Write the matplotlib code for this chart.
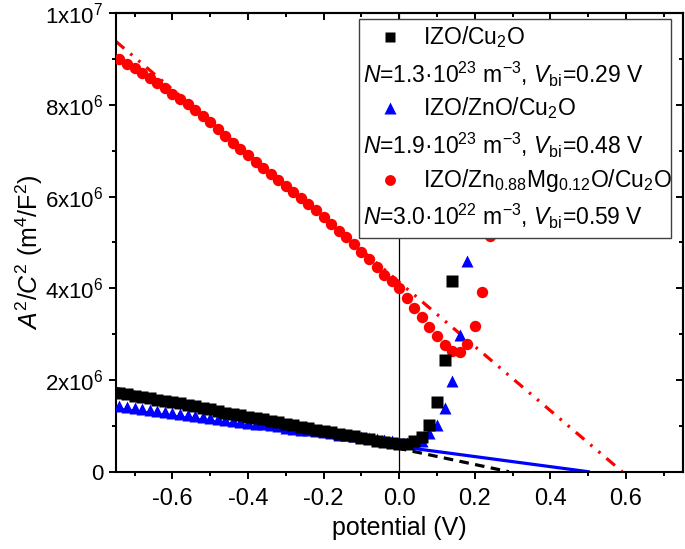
import matplotlib
matplotlib.use("Agg")
import matplotlib.pyplot as plt
from matplotlib.ticker import MultipleLocator, FixedLocator
from matplotlib.patches import Rectangle

plt.rcParams['font.family'] = ['Liberation Sans', 'DejaVu Sans']
plt.rcParams['mathtext.fontset'] = 'custom'
plt.rcParams['mathtext.rm'] = 'Liberation Sans'
plt.rcParams['mathtext.it'] = 'Liberation Sans:italic'
plt.rcParams['mathtext.bf'] = 'Liberation Sans:bold'

# ---------------- data (values in V and m^4/F^2 * 1e6) ----------------
cu2o_x = [-0.74, -0.72, -0.70, -0.68, -0.66, -0.64, -0.62, -0.60, -0.58, -0.56,
          -0.54, -0.52, -0.50, -0.48, -0.46, -0.44, -0.42, -0.40, -0.38, -0.36,
          -0.34, -0.32, -0.30, -0.28, -0.26, -0.24, -0.22, -0.20, -0.18, -0.16,
          -0.14, -0.12, -0.10, -0.08, -0.06, -0.04, -0.02, 0.00, 0.02, 0.04,
          0.06, 0.08, 0.10, 0.12, 0.14]
cu2o_y = [1.72, 1.69, 1.66, 1.63, 1.60, 1.57, 1.55, 1.52, 1.49, 1.46,
          1.43, 1.39, 1.36, 1.33, 1.29, 1.26, 1.23, 1.20, 1.17, 1.14,
          1.11, 1.08, 1.05, 1.02, 0.98, 0.95, 0.92, 0.89, 0.86, 0.83,
          0.80, 0.77, 0.74, 0.71, 0.68, 0.65, 0.62, 0.60, 0.60, 0.66,
          0.76, 1.02, 1.51, 2.44, 4.16]

zno_x = [-0.74, -0.72, -0.70, -0.68, -0.66, -0.64, -0.62, -0.60, -0.58, -0.56,
         -0.54, -0.52, -0.50, -0.48, -0.46, -0.44, -0.42, -0.40, -0.38, -0.36,
         -0.34, -0.32, -0.30, -0.28, -0.26, -0.24, -0.22, -0.20, -0.18, -0.16,
         -0.14, -0.12, -0.10, -0.08, -0.06, -0.04, -0.02, 0.00, 0.02, 0.04,
         0.06, 0.08, 0.10, 0.12, 0.14, 0.16, 0.18]
zno_y = [1.43, 1.41, 1.39, 1.37, 1.35, 1.33, 1.30, 1.28, 1.26, 1.24,
         1.22, 1.20, 1.18, 1.16, 1.13, 1.11, 1.09, 1.07, 1.05, 1.03,
         1.01, 0.99, 0.96, 0.94, 0.92, 0.90, 0.88, 0.86, 0.84, 0.81,
         0.79, 0.77, 0.75, 0.73, 0.71, 0.69, 0.67, 0.65, 0.63, 0.63,
         0.66, 0.84, 1.02, 1.38, 1.98, 2.98, 4.59]

znmg_x = [-0.74, -0.72, -0.70, -0.68, -0.66, -0.64, -0.62, -0.60, -0.58, -0.56,
          -0.54, -0.52, -0.50, -0.48, -0.46, -0.44, -0.42, -0.40, -0.38, -0.36,
          -0.34, -0.32, -0.30, -0.28, -0.26, -0.24, -0.22, -0.20, -0.18, -0.16,
          -0.14, -0.12, -0.10, -0.08, -0.06, -0.04, -0.02, 0.00, 0.02, 0.04,
          0.06, 0.08, 0.10, 0.12, 0.14, 0.16, 0.18, 0.20, 0.22, 0.24]
znmg_y = [9.00, 8.90, 8.80, 8.70, 8.58, 8.47, 8.36, 8.25, 8.13, 8.02,
          7.89, 7.76, 7.62, 7.48, 7.33, 7.18, 7.04, 6.90, 6.76, 6.63,
          6.50, 6.36, 6.23, 6.10, 5.97, 5.84, 5.70, 5.56, 5.41, 5.26,
          5.11, 4.96, 4.80, 4.63, 4.46, 4.30, 4.16, 4.00, 3.80, 3.58,
          3.37, 3.16, 2.95, 2.77, 2.64, 2.62, 2.78, 3.18, 3.91, 5.15]

# linear Mott-Schottky fits (end points)
fit_cu2o_x = [-0.75, 0.29]
fit_cu2o_y = [1.82, 0.0]
fit_zno_x = [-0.75, 0.50]
fit_zno_y = [1.375, 0.0]
fit_znmg_x = [-0.75, 0.59]
fit_znmg_y = [9.39, 0.0]

scale = 1e6
x_ticks = [-0.6, -0.4, -0.2, 0.0, 0.2, 0.4, 0.6]
x_ticklabels = ['-0.6', '-0.4', '-0.2', '0.0', '0.2', '0.4', '0.6']
y_ticks = [0, 2e6, 4e6, 6e6, 8e6, 1e7]
y_ticklabels = ['0', '2x10$^{6}$', '4x10$^{6}$', '6x10$^{6}$', '8x10$^{6}$', '1x10$^{7}$']

legend_labels = ['IZO/Cu$_{2}$O', 'IZO/ZnO/Cu$_{2}$O',
                 'IZO/Zn$_{0.88}$Mg$_{0.12}$O/Cu$_{2}$O']
legend_notes = ['$N$=1.3·10$^{23}$ m$^{-3}$, $V_{\\mathrm{bi}}$=0.29 V',
                '$N$=1.9·10$^{23}$ m$^{-3}$, $V_{\\mathrm{bi}}$=0.48 V',
                '$N$=3.0·10$^{22}$ m$^{-3}$, $V_{\\mathrm{bi}}$=0.59 V']

# ---------------- figure ----------------
fig = plt.figure(figsize=(6.85, 5.49), dpi=100)
ax = fig.add_axes([0.1689, 0.1408, 0.8278, 0.8350])

blk, blu, red = '#000000', '#0000ff', '#ff0000'

ax.axvline(0, color='black', lw=0.9, zorder=1)

ax.plot(fit_cu2o_x, [v * scale for v in fit_cu2o_y], color=blk, lw=2.3,
        ls=(0, (3, 2)), zorder=2)
ax.plot(fit_zno_x, [v * scale for v in fit_zno_y], color=blu, lw=2.3, zorder=2)
ax.plot(fit_znmg_x, [v * scale for v in fit_znmg_y], color=red, lw=2.3,
        ls=(0, (3.5, 2.5, 0.8, 2.5, 0.8, 2.5)), zorder=2)

ax.plot(cu2o_x, [v * scale for v in cu2o_y], ls='none', marker='s', ms=8.3,
        color=blk, mec='none', zorder=4)
ax.plot(zno_x, [v * scale for v in zno_y], ls='none', marker='^', ms=8.3,
        color=blu, mec='none', zorder=3)
ax.plot(znmg_x, [v * scale for v in znmg_y], ls='none', marker='o', ms=8.2,
        color=red, mec='none', zorder=3)

ax.set_xlim(-0.75, 0.75)
ax.set_ylim(0, 1e7)

ax.xaxis.set_major_locator(FixedLocator(x_ticks))
ax.set_xticklabels(x_ticklabels)
ax.xaxis.set_minor_locator(MultipleLocator(0.1))
ax.yaxis.set_major_locator(FixedLocator(y_ticks))
ax.set_yticklabels(y_ticklabels)
ax.yaxis.set_minor_locator(MultipleLocator(1e6))

ax.tick_params(which='both', direction='out', width=1.4)
ax.tick_params(axis='x', labelsize=17, pad=7)
ax.tick_params(axis='y', labelsize=16, pad=4)
ax.tick_params(which='major', length=5)
ax.tick_params(which='minor', length=2.8)

for s in ax.spines.values():
    s.set_linewidth(1.5)

top = ax.secondary_xaxis('top')
top.xaxis.set_major_locator(FixedLocator(x_ticks))
top.xaxis.set_minor_locator(MultipleLocator(0.1))
top.tick_params(which='both', direction='in', width=1.4, labeltop=False)
top.tick_params(which='major', length=5)
top.tick_params(which='minor', length=2.8)
top.spines['top'].set_linewidth(1.5)

right = ax.secondary_yaxis('right')
right.yaxis.set_major_locator(FixedLocator(y_ticks))
right.yaxis.set_minor_locator(MultipleLocator(1e6))
right.tick_params(which='both', direction='in', width=1.4, labelright=False)
right.tick_params(which='major', length=5)
right.tick_params(which='minor', length=2.8)
right.spines['right'].set_linewidth(1.5)

ax.set_xlabel('potential (V)', fontsize=18)
ax.set_ylabel('$A^{2}$/$C^{2}$ (m$^{4}$/F$^{2}$)', fontsize=18)
ax.xaxis.set_label_coords(0.5, -0.097)
ax.yaxis.set_label_coords(-0.125, 0.48)

# ---------------- legend box ----------------
ax.add_patch(Rectangle((0.4296, 0.5092), 0.5503, 0.4784, transform=ax.transAxes,
                       facecolor='white', edgecolor='#404040', lw=1.0, zorder=10))
row_y = [0.949, 0.8676, 0.7934, 0.7111, 0.6363, 0.5563]
styles = [('s', blk, 7.5), ('^', blu, 8), ('o', red, 7.8)]
for i in range(3):
    m, c, ms = styles[i]
    ax.plot([0.484], [row_y[2 * i]], transform=ax.transAxes, marker=m, ms=ms,
            color=c, mec='none', ls='none', zorder=11, clip_on=False)
    ax.text(0.542, row_y[2 * i], legend_labels[i], transform=ax.transAxes,
            fontsize=16.5, va='center', ha='left', zorder=12)
    ax.text(0.4367, row_y[2 * i + 1], legend_notes[i], transform=ax.transAxes,
            fontsize=16.5, va='center', ha='left', zorder=12)

fig.savefig('out.png', dpi=100)
